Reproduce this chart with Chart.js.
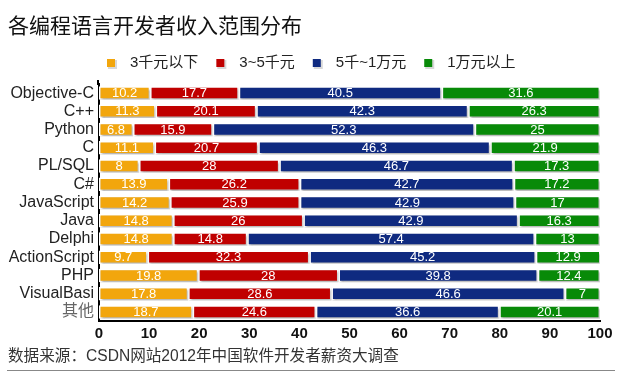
<!DOCTYPE html>
<html>
<head>
<meta charset="utf-8">
<script src="https://cdn.jsdelivr.net/npm/chart.js@4"></script>
<style>
  html, body { margin: 0; padding: 0; background: #fff; }
  #wrap { width: 628px; height: 383px; }
</style>
</head>
<body>
<div id="wrap"><canvas id="salaryChart" width="628" height="383"></canvas></div>
<script>
// 数据
const languages = ['Objective-C', 'C++', 'Python', 'C', 'PL/SQL', 'C#', 'JavaScript', 'Java', 'Delphi', 'ActionScript', 'PHP', 'VisualBasi', '其他'];
const seriesNames = ['3千元以下', '3~5千元', '5千~1万元', '1万元以上'];
const below3k = [10.2, 11.3, 6.8, 11.1, 8, 13.9, 14.2, 14.8, 14.8, 9.7, 19.8, 17.8, 18.7];
const from3to5k = [17.7, 20.1, 15.9, 20.7, 28, 26.2, 25.9, 26, 14.8, 32.3, 28, 28.6, 24.6];
const from5kto10k = [40.5, 42.3, 52.3, 46.3, 46.7, 42.7, 42.9, 42.9, 57.4, 45.2, 39.8, 46.6, 36.6];
const above10k = [31.6, 26.3, 25, 21.9, 17.3, 17.2, 17, 16.3, 13, 12.9, 12.4, 7, 20.1];
const seriesColors = ['#f2a60d', '#c00000', '#0f2a80', '#088a08'];

const titleText = '各编程语言开发者收入范围分布';
const sourceText = '数据来源：CSDN网站2012年中国软件开发者薪资大调查';

const cjkFont = '"Liberation Sans", Arial, "Noto Sans CJK SC", sans-serif';

// 阴影 + 柱内数值
const barDecor = {
  id: 'barDecor',
  beforeDatasetsDraw(chart) {
    const ctx = chart.ctx;
    ctx.save();
    ctx.shadowColor = 'rgba(0,0,0,0.28)';
    ctx.shadowOffsetX = 1;
    ctx.shadowOffsetY = 2;
    ctx.shadowBlur = 2;
  },
  afterDatasetsDraw(chart) {
    const ctx = chart.ctx;
    ctx.restore();
    ctx.save();
    ctx.font = '13px ' + cjkFont;
    ctx.fillStyle = '#fff';
    ctx.textAlign = 'center';
    ctx.textBaseline = 'middle';
    chart.data.datasets.forEach((ds, i) => {
      chart.getDatasetMeta(i).data.forEach((bar, j) => {
        const cx = (bar.x + bar.base) / 2;
        ctx.fillText(String(ds.data[j]), cx, bar.y + 0.5);
      });
    });
    ctx.restore();
  }
};

// 标题、图例、来源
const frame = {
  id: 'frame',
  afterDraw(chart) {
    const ctx = chart.ctx;
    const area = chart.chartArea;
    ctx.save();

    // y轴线向上略微延长
    ctx.strokeStyle = '#000';
    ctx.lineWidth = 2;
    ctx.beginPath();
    ctx.moveTo(area.left - 1, area.top + 1);
    ctx.lineTo(area.left - 1, area.top - 4);
    ctx.stroke();

    ctx.textBaseline = 'middle';
    ctx.textAlign = 'left';

    ctx.fillStyle = '#111';
    ctx.font = '21px "Noto Sans CJK SC", sans-serif';
    ctx.fillText(titleText, 8, 25);

    // legend
    let x = 107;
    const ly = 63;
    ctx.font = '15px ' + cjkFont;
    chart.data.datasets.forEach(ds => {
      ctx.fillStyle = '#d8d8d8';
      ctx.fillRect(x + 1, ly - 3, 9, 9);
      ctx.fillStyle = ds.backgroundColor;
      ctx.fillRect(x, ly - 4, 8, 8);
      x += 23;
      ctx.fillStyle = '#222';
      ctx.fillText(ds.label, x, ly);
      x += ctx.measureText(ds.label).width + 18;
    });

    ctx.fillStyle = '#333';
    ctx.font = '15.6px ' + cjkFont;
    ctx.fillText(sourceText, 8, 357);

    ctx.strokeStyle = '#888';
    ctx.lineWidth = 1;
    ctx.beginPath();
    ctx.moveTo(7, 370.5);
    ctx.lineTo(615, 370.5);
    ctx.stroke();
    ctx.restore();
  }
};

const datasetValues = [below3k, from3to5k, from5kto10k, above10k];

new Chart(document.getElementById('salaryChart'), {
  type: 'bar',
  data: {
    labels: languages,
    datasets: seriesNames.map((name, i) => ({
      label: name,
      data: datasetValues[i],
      backgroundColor: seriesColors[i],
      borderColor: '#ffffff',
      borderWidth: 1.5,
      borderSkipped: false,
      barPercentage: 0.74,
      categoryPercentage: 1
    }))
  },
  options: {
    indexAxis: 'y',
    responsive: false,
    animation: false,
    layout: { padding: { top: 84, right: 28, bottom: 38, left: 0 } },
    plugins: {
      legend: { display: false },
      title: { display: false },
      tooltip: { enabled: false }
    },
    scales: {
      x: {
        stacked: true,
        min: 0,
        max: 100,
        ticks: { stepSize: 10, color: '#111', padding: 4, font: { size: 15, weight: 'bold', family: cjkFont } },
        grid: { display: false, drawTicks: false },
        border: { display: true, color: '#000', width: 2 },
        afterFit(scale) { scale.height = 24; }
      },
      y: {
        stacked: true,
        ticks: {
          autoSkip: false,
          color: c => (languages[c.index] === '其他' ? '#666' : '#222'),
          padding: 5,
          font: { size: 16, family: cjkFont }
        },
        grid: { display: false, drawTicks: false },
        border: { display: true, color: '#000', width: 2 },
        afterFit(scale) { scale.width = 99; }
      }
    }
  },
  plugins: [barDecor, frame]
});
</script>
</body>
</html>
